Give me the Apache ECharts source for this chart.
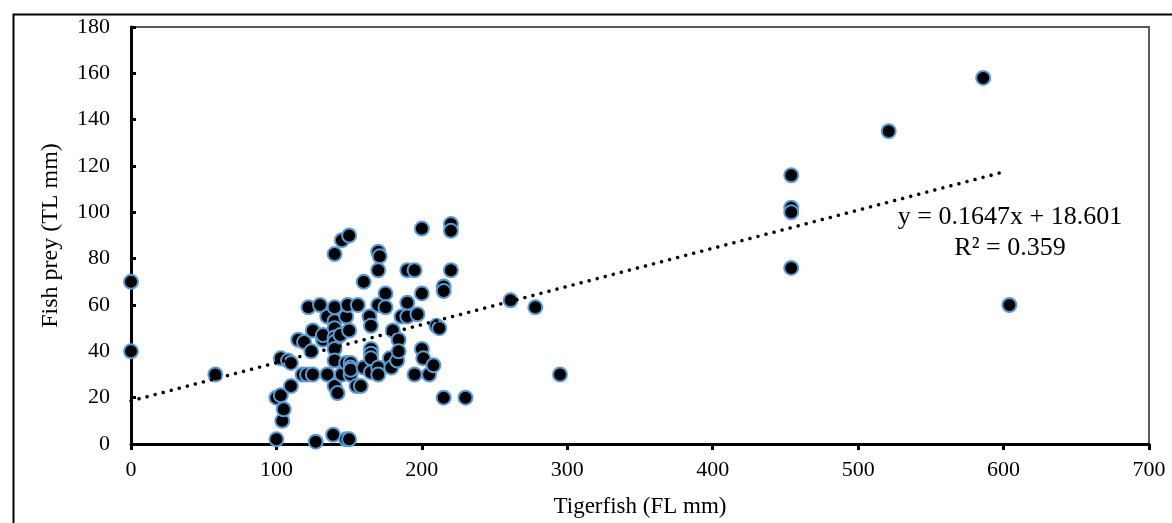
<!DOCTYPE html>
<html>
<head>
<meta charset="utf-8">
<script src="https://cdn.jsdelivr.net/npm/echarts@6/dist/echarts.min.js"></script>
<style>
html,body{margin:0;padding:0;background:#fff;}
#chart{width:1172px;height:523px;}
</style>
</head>
<body>
<div id="chart"></div>
<script>
// Tigerfish fork length (mm)
const tigerfishFL = [0,0,58,100,100,103,104,105,103,108,110,110,115,119,122,118,121,125,130,125,124,127,132,132,135,135,139,140,140,140,140,140,140,140,140,140,142,145,145,144,148,148,148,150,149,150,150,151,151,151,151,155,156,158,160,160,164,165,165,165,165,165,170,171,170,170,170,170,175,175,178,179,180,183,184,184,186,190,190,190,195,195,197,200,200,200,201,205,208,210,212,215,215,215,220,220,220,230,261,278,295,454,454,454,454,521,586,604];
// Fish prey total length (mm)
const preyTL = [70,40,30,2,20,21,10,15,37,36,35,25,45,44,59,30,30,30,60,49,40,1,45,47,55,30,4,82,59,53,50,46,44,41,36,25,22,88,30,47,55,35,2,2,60,90,49,35,33,30,32,25,60,25,70,33,55,51,41,39,37,31,83,81,75,60,33,30,65,59,37,33,49,36,45,40,55,75,61,55,75,30,56,93,65,41,37,30,34,51,50,68,66,20,95,92,75,20,62,59,30,116,102,100,76,135,158,60];
// Trendline parameters (as displayed)
const slope = 0.1647;
const intercept = 18.601;
const trendX = [0, 600];
const xTicks = {min: 0, max: 700, interval: 100};
const yTicks = {min: 0, max: 180, interval: 20};
const eqText = 'y = 0.1647x + 18.601';
const r2Text = 'R² = 0.359';

const points = tigerfishFL.map((x, i) => [x, preyTL[i]]);
const trend = trendX.map(x => [x, slope * x + intercept]);

const font = 'Liberation Serif, Times New Roman, serif';
const chart = echarts.init(document.getElementById('chart'));
chart.setOption({
  backgroundColor: '#fff',
  animation: false,
  grid: {left: 131, top: 27, right: 23, bottom: 74, show: true, borderColor: '#595959', borderWidth: 2, backgroundColor: 'transparent'},
  xAxis: {
    type: 'value', min: xTicks.min, max: xTicks.max, interval: xTicks.interval,
    name: 'Tigerfish (FL mm)', nameLocation: 'middle', nameGap: 51,
    nameTextStyle: {fontFamily: font, fontSize: 23, color: '#000'},
    axisLine: {show: true, onZero: false, lineStyle: {color: '#000', width: 3}},
    axisTick: {show: true, inside: false, length: 6, lineStyle: {color: '#000', width: 3}},
    axisLabel: {fontFamily: font, fontSize: 22, color: '#000', margin: 15},
    splitLine: {show: false}
  },
  yAxis: {
    type: 'value', min: yTicks.min, max: yTicks.max, interval: yTicks.interval,
    name: 'Fish prey (TL mm)', nameLocation: 'middle', nameGap: 68,
    nameTextStyle: {fontFamily: font, fontSize: 24, color: '#000'},
    axisLine: {show: true, onZero: false, lineStyle: {color: '#000', width: 3}},
    axisTick: {show: true, inside: true, length: 5, lineStyle: {color: '#000', width: 3}},
    axisLabel: {fontFamily: font, fontSize: 22, color: '#000', margin: 21},
    splitLine: {show: false}
  },
  series: [
    {
      type: 'scatter', data: points, symbol: 'circle', symbolSize: 14,
      itemStyle: {color: '#000', borderColor: '#5B9BD5', borderWidth: 2, opacity: 1},
      z: 2
    },
    {
      type: 'line', data: trend, showSymbol: false, symbol: 'none',
      lineStyle: {color: '#000', width: 3.5, type: [0.01, 8.3], cap: 'round'},
      z: 3
    }
  ],
  graphic: [
    {type: 'rect', left: 11, top: 12, shape: {width: 1300, height: 700}, style: {fill: 'none', stroke: '#000', lineWidth: 2}, silent: true, z: 10},
    {type: 'text', x: 1010, y: 233, style: {text: eqText + '\n' + r2Text, fontFamily: font, fontSize: 26, fill: '#000', align: 'center', verticalAlign: 'middle', lineHeight: 31}, z: 10}
  ]
});
</script>
</body>
</html>
